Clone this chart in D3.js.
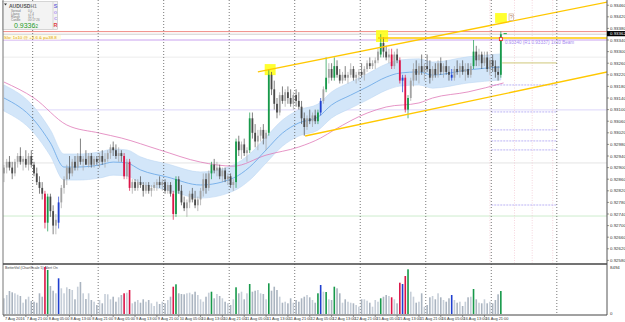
<!DOCTYPE html>
<html>
<head>
<meta charset="utf-8">
<script src="https://cdn.jsdelivr.net/npm/d3@7"></script>
<style>
  body { margin: 0; background: #fff; }
  svg { display: block; font-family: "Liberation Sans", Arial, sans-serif; }
</style>
</head>
<body>
<script>
// AUDUSD H1 bars: [open, high, low, close]
const candles = [
  [.9288,.9291,.9285,.9290],[.9290,.9293,.9288,.9292],[.9292,.9294,.9289,.9290],[.9290,.9292,.9286,.9288],
  [.9288,.9293,.9287,.9292],[.9292,.9295,.9290,.9294],[.9294,.9297,.9291,.9292],[.9292,.9294,.9289,.9293],
  [.9293,.9296,.9290,.9291],[.9291,.9295,.9289,.9294],[.9294,.9296,.9290,.9291],[.9291,.9292,.9287,.9288],
  [.9288,.9290,.9284,.9285],[.9285,.9287,.9281,.9283],[.9283,.9285,.9279,.9281],[.9281,.9282,.9269,.9271],
  [.9271,.9281,.9268,.9280],[.9280,.9281,.9273,.9275],[.9275,.9277,.9267,.9270],[.9270,.9274,.9267,.9272],
  [.9271,.9280,.9269,.9278],[.9278,.9284,.9276,.9283],[.9283,.9287,.9281,.9286],[.9286,.9291,.9284,.9290],
  [.9290,.9294,.9286,.9288],[.9288,.9293,.9287,.9292],[.9292,.9294,.9289,.9290],[.9290,.9295,.9289,.9294],
  [.9294,.9300,.9291,.9292],[.9292,.9294,.9289,.9293],[.9293,.9296,.9291,.9291],[.9291,.9295,.9290,.9294],
  [.9294,.9295,.9290,.9291],[.9291,.9294,.9290,.9293],[.9293,.9294,.9291,.9292],[.9292,.9295,.9290,.9294],
  [.9294,.9296,.9291,.9292],[.9292,.9295,.9290,.9293],[.9293,.9296,.9292,.9295],[.9295,.9298,.9293,.9297],
  [.9297,.9299,.9294,.9296],[.9296,.9298,.9293,.9294],[.9294,.9297,.9292,.9295],[.9295,.9296,.9292,.9294],
  [.9294,.9295,.9286,.9287],[.9287,.9293,.9286,.9292],[.9292,.9293,.9282,.9283],[.9283,.9286,.9281,.9285],
  [.9285,.9286,.9282,.9283],[.9283,.9286,.9282,.9285],[.9285,.9287,.9283,.9284],[.9284,.9285,.9280,.9282],
  [.9282,.9285,.9281,.9284],[.9284,.9285,.9281,.9282],[.9282,.9284,.9280,.9283],[.9283,.9285,.9282,.9284],
  [.9284,.9286,.9282,.9285],[.9285,.9287,.9283,.9284],[.9284,.9286,.9282,.9285],[.9285,.9286,.9281,.9282],
  [.9282,.9285,.9281,.9284],[.9284,.9285,.9280,.9281],[.9281,.9282,.9272,.9274],[.9274,.9287,.9273,.9286],
  [.9286,.9287,.9281,.9282],[.9282,.9284,.9277,.9278],[.9278,.9280,.9275,.9276],[.9276,.9279,.9273,.9278],
  [.9278,.9282,.9276,.9281],[.9281,.9283,.9278,.9279],[.9279,.9282,.9276,.9277],[.9277,.9280,.9275,.9279],
  [.9279,.9283,.9277,.9282],[.9282,.9288,.9280,.9286],[.9286,.9288,.9281,.9283],[.9283,.9289,.9282,.9288],
  [.9288,.9292,.9286,.9291],[.9291,.9293,.9288,.9289],[.9289,.9292,.9287,.9290],[.9290,.9291,.9286,.9287],
  [.9287,.9290,.9285,.9289],[.9289,.9290,.9285,.9286],[.9286,.9288,.9284,.9287],[.9287,.9288,.9283,.9284],
  [.9284,.9286,.9282,.9285],[.9285,.9300,.9283,.9299],[.9299,.9301,.9294,.9296],[.9296,.9299,.9293,.9298],
  [.9298,.9300,.9294,.9295],[.9295,.9297,.9292,.9296],[.9296,.9309,.9295,.9307],[.9307,.9309,.9300,.9302],
  [.9302,.9305,.9297,.9299],[.9299,.9303,.9296,.9301],[.9301,.9304,.9299,.9303],[.9303,.9305,.9298,.9300],
  [.9300,.9303,.9296,.9302],[.9302,.9324,.9301,.9322],[.9322,.9323,.9315,.9317],[.9317,.9320,.9310,.9312],
  [.9312,.9314,.9307,.9309],[.9309,.9316,.9308,.9315],[.9315,.9318,.9312,.9313],[.9313,.9317,.9311,.9316],
  [.9316,.9318,.9312,.9314],[.9314,.9317,.9311,.9312],[.9312,.9316,.9310,.9315],[.9315,.9317,.9311,.9313],
  [.9313,.9316,.9310,.9311],[.9311,.9313,.9305,.9307],[.9307,.9309,.9301,.9304],[.9304,.9308,.9303,.9307],
  [.9307,.9310,.9305,.9306],[.9306,.9309,.9304,.9308],[.9308,.9310,.9305,.9306],[.9306,.9310,.9305,.9309],
  [.9309,.9314,.9308,.9313],[.9313,.9318,.9312,.9317],[.9317,.9328,.9316,.9321],[.9321,.9326,.9319,.9324],
  [.9324,.9326,.9320,.9321],[.9321,.9328,.9320,.9325],[.9325,.9327,.9321,.9322],[.9322,.9324,.9319,.9320],
  [.9320,.9323,.9319,.9322],[.9322,.9325,.9320,.9321],[.9321,.9323,.9319,.9322],[.9322,.9326,.9321,.9324],
  [.9324,.9325,.9320,.9321],[.9321,.9323,.9319,.9322],[.9322,.9324,.9320,.9323],[.9323,.9326,.9321,.9322],
  [.9322,.9325,.9320,.9324],[.9324,.9327,.9323,.9326],[.9326,.9328,.9324,.9325],[.9325,.9327,.9324,.9326],
  [.9326,.9328,.9324,.9327],[.9327,.9331,.9326,.9330],[.9329,.9336,.9328,.9333],[.9333,.9335,.9328,.9330],
  [.9330,.9332,.9327,.9328],[.9328,.9331,.9326,.9329],[.9329,.9331,.9324,.9325],[.9325,.9330,.9324,.9329],
  [.9329,.9331,.9326,.9327],[.9327,.9328,.9319,.9320],[.9320,.9322,.9316,.9321],[.9321,.9322,.9309,.9310],
  [.9310,.9315,.9307,.9314],[.9314,.9321,.9313,.9320],[.9320,.9326,.9318,.9324],[.9324,.9327,.9320,.9322],
  [.9322,.9326,.9319,.9325],[.9325,.9329,.9322,.9323],[.9323,.9326,.9320,.9325],[.9325,.9329,.9323,.9324],
  [.9324,.9327,.9319,.9321],[.9321,.9325,.9320,.9324],[.9324,.9326,.9321,.9322],[.9322,.9327,.9321,.9326],
  [.9326,.9328,.9322,.9323],[.9323,.9326,.9321,.9325],[.9325,.9327,.9322,.9323],[.9323,.9325,.9320,.9322],
  [.9322,.9324,.9320,.9321],[.9321,.9325,.9320,.9324],[.9324,.9327,.9322,.9323],[.9323,.9326,.9321,.9325],
  [.9325,.9327,.9322,.9323],[.9323,.9326,.9320,.9324],[.9324,.9326,.9321,.9322],[.9322,.9326,.9321,.9325],
  [.9325,.9334,.9324,.9330],[.9330,.9332,.9325,.9327],[.9327,.9331,.9325,.9329],[.9329,.9330,.9324,.9326],
  [.9326,.9330,.9325,.9328],[.9328,.9330,.9323,.9324],[.9324,.9328,.9322,.9327],[.9327,.9329,.9323,.9325],
  [.9325,.9327,.9321,.9323],[.9323,.9325,.9320,.9322],[.9322,.9337,.9321,.9336]
];

// tick volume per bar
const volumes = [
  2837,3433,4156,3921,3740,3487,3253,2042,2656,3126,2349,2223,2042,3740,3126,8494,7951,5060,4210,3740,
  6451,4644,3740,4825,4518,4337,2656,4933,5782,3740,2710,3740,2530,2223,1626,2530,1933,3614,3560,2656,
  3126,2223,3018,3433,3740,3849,4337,1933,2223,2530,2042,2656,2223,2530,1933,1446,2223,1807,2223,1933,
  2530,3126,4933,5367,3740,3614,3560,3740,3849,3560,4030,3433,2656,2223,3126,3849,4030,2837,3614,3253,
  2837,2223,1933,1626,2656,4825,3740,4030,2656,3740,5421,4030,4210,4337,3740,3614,2656,5547,4210,4933,
  4337,3126,2042,2223,1933,2837,2042,2530,2223,2837,3126,3433,3018,2530,2042,3740,5240,4030,3975,2656,
  2530,4933,4644,3740,2042,2656,2223,2042,1933,1626,1320,2656,2656,2403,2042,1320,2530,2223,2837,3126,
  3433,3253,3018,2656,1933,5656,5421,6867,8077,4030,3126,2042,2223,3740,1320,1626,3018,3253,2656,3740,
  3018,2530,2223,2837,3433,2530,2042,2223,1446,2223,3018,3126,4518,2656,2042,1933,2656,1933,2223,1933,
  2530,3560,4156
];
const volRed   = [15, 44, 46, 62, 142, 145, 147];
const volGreen = [16, 63, 76, 85, 90, 97, 115, 118, 121, 138, 148, 172, 182];
const volBlue  = [20, 116, 146, 164];
const volMax = 8494;

const priceTicks = [0.93460,0.93420,0.93380,0.93340,0.93300,0.93260,0.93220,0.93180,0.93140,0.93100,0.93060,
  0.93020,0.92980,0.92940,0.92900,0.92860,0.92820,0.92780,0.92740,0.92700,0.92660,0.92620,0.92580];

const timeLabelIdx = [0,8,16,24,32,40,48,56,64,72,80,88,96,104,112,120,128,136,144,152,160,168,176];
const timeLabels = ["7 Aug 2016","7 Aug 21:00","8 Aug 05:00","8 Aug 13:00","8 Aug 21:00","9 Aug 05:00",
  "9 Aug 13:00","9 Aug 21:00","10 Aug 05:00","10 Aug 13:00","10 Aug 21:00","11 Aug 05:00","11 Aug 13:00",
  "11 Aug 21:00","12 Aug 05:00","12 Aug 13:00","12 Aug 21:00","15 Aug 05:00","15 Aug 13:00","15 Aug 21:00",
  "16 Aug 05:00","16 Aug 13:00","16 Aug 21:00"];
const daySeps = [10.5, 34.5, 58.5, 82.5, 106.5, 130.5, 154.5, 178.5, 202.5];

// moving average with envelope, and slow MA
const maIdx = [0,11,17,22,27,35,40,45,50,60,72,84,90,96,102,108,115,120,127,133,140,145,152,157,170,182];
const maMid = [0.93140,0.93064,0.92985,0.92902,0.92902,0.92909,0.92919,0.92916,0.92892,0.92867,0.92840,
  0.92864,0.92902,0.92961,0.93019,0.93054,0.93074,0.93116,0.93150,0.93178,0.93212,0.93226,0.93230,
  0.93219,0.93237,0.93247];
const bandHalf = 0.00045;
const slowIdx = [0,11,23,35,43,57,72,84,96,108,116,121,133,140,152,157,170,183];
const slowMa = [0.93195,0.93140,0.93047,0.93019,0.93002,0.92961,0.92919,0.92905,0.92943,0.92971,0.93002,
  0.93030,0.93088,0.93109,0.93123,0.93140,0.93161,0.93192];

// drawn objects
const upperTrend = [[93, 0.93230], [221, 0.93471]];
const lowerTrend = [[110.3, 0.93009], [221, 0.93230]];
const resistLine = [[137, 0.93347], [221, 0.93347]];
const markBoxes = [[95.5, 99.5, 0.93257, 0.93219], [136.3, 140.7, 0.93374, 0.93333], [179.9, 184.2, 0.93433, 0.93399]];
const askLevel = 0.93369, bidLevel = 0.93360, pivotLevel = 0.93340;
const softLevels = [0.93281, 0.93099, 0.92916, 0.92733];
const projLevels = [0.93185, 0.93092, 0.93030, 0.92992, 0.92961, 0.92771];
const projTarget = 0.93261;
const projSpan = [178.5, 202.5];
const projMarks = [178, 187, 193.5, 201];
const lastPrice = 0.93362;

const W = 625, H = 322;
const svg = d3.select("body").append("svg").attr("width", W).attr("height", H);

const x = d3.scaleLinear().domain([0, 221]).range([4, 607.3]);
const y = d3.scaleLinear().domain([0.92571, 0.93478]).range([263, 0]);
const yv = d3.scaleLinear().domain([0, volMax]).range([314, 267]);

svg.append("rect").attr("width", W).attr("height", H).attr("fill", "#fff");

svg.append("clipPath").attr("id", "main").append("rect")
  .attr("x", 3).attr("y", 0).attr("width", 604).attr("height", 263);
const g = svg.append("g").attr("clip-path", "url(#main)");

// soft horizontal levels
const softCol = ["#ececec", "#dcd6fa", "#e4e4e4", "#cdeccd"];
softLevels.forEach((p, k) => {
  g.append("line").attr("x1", 3).attr("x2", 607).attr("y1", y(p)).attr("y2", y(p))
    .attr("stroke", softCol[k]).attr("stroke-width", 1);
});

// envelope band
const band = d3.area().curve(d3.curveMonotoneX)
  .x((d, k) => x(maIdx[k]))
  .y0(d => y(d - bandHalf)).y1(d => y(d + bandHalf));
g.append("path").datum(maMid).attr("d", band).attr("fill", "#d3e6f9").attr("stroke", "#bfd9f3").attr("stroke-width", 0.6);

// day separators
daySeps.forEach(s => {
  svg.append("line").attr("x1", x(s)).attr("x2", x(s)).attr("y1", 0).attr("y2", 315)
    .attr("stroke", "#555").attr("stroke-width", 0.8).attr("stroke-dasharray", "1,2");
});

// projection area objects on the right
projMarks.forEach(s => {
  g.append("line").attr("x1", x(s)).attr("x2", x(s)).attr("y1", 0).attr("y2", 263)
    .attr("stroke", "#f2c4cf").attr("stroke-width", 0.7).attr("stroke-dasharray", "1,1.5");
});
projLevels.forEach(p => {
  g.append("line").attr("x1", x(projSpan[0])).attr("x2", x(projSpan[1])).attr("y1", y(p)).attr("y2", y(p))
    .attr("stroke", "#a9a0f2").attr("stroke-width", 0.8).attr("stroke-dasharray", "2,1");
});
g.append("line").attr("x1", x(projSpan[0] + 4)).attr("x2", x(projSpan[1])).attr("y1", y(projTarget)).attr("y2", y(projTarget))
  .attr("stroke", "#cfc77a").attr("stroke-width", 1);

// price lines
g.append("line").attr("x1", 3).attr("x2", 607).attr("y1", y(askLevel)).attr("y2", y(askLevel))
  .attr("stroke", "#f08a84").attr("stroke-width", 1);
g.append("line").attr("x1", 3).attr("x2", 607).attr("y1", y(bidLevel)).attr("y2", y(bidLevel))
  .attr("stroke", "#c4c4c4").attr("stroke-width", 0.8);
g.append("line").attr("x1", 3).attr("x2", 607).attr("y1", y(pivotLevel)).attr("y2", y(pivotLevel))
  .attr("stroke", "#c9a2ef").attr("stroke-width", 1);

// yellow marker boxes
markBoxes.forEach(b => {
  g.append("rect").attr("x", x(b[0])).attr("y", y(b[2])).attr("width", x(b[1]) - x(b[0])).attr("height", y(b[3]) - y(b[2]))
    .attr("fill", "#ffff1a").attr("opacity", 0.9);
});

// slow MA and envelope centre
const lineOf = idx => d3.line().curve(d3.curveMonotoneX).x((d, k) => x(idx[k])).y(d => y(d));
g.append("path").datum(slowMa).attr("d", lineOf(slowIdx)).attr("fill", "none").attr("stroke", "#e07ab8").attr("stroke-width", 0.8);
g.append("path").datum(maMid).attr("d", lineOf(maIdx)).attr("fill", "none").attr("stroke", "#64a4e6").attr("stroke-width", 0.8);

// candles
const special = {};
volRed.forEach(i => special[i] = "#dc1447");
volGreen.forEach(i => special[i] = "#17994a");
volBlue.forEach(i => special[i] = "#1f3fcf");
const candleCol = (d, i) => special[i] || (d[3] >= d[0] ? "#a3a3a3" : "#4a4a4a");

const cg = g.append("g");
cg.selectAll("line").data(candles).enter().append("line")
  .attr("x1", (d, i) => x(i)).attr("x2", (d, i) => x(i))
  .attr("y1", d => y(d[1])).attr("y2", d => y(d[2]))
  .attr("stroke", candleCol).attr("stroke-width", 0.7);
cg.selectAll("rect").data(candles).enter().append("rect")
  .attr("x", (d, i) => x(i) - 0.9).attr("width", 1.8)
  .attr("y", d => y(Math.max(d[0], d[3])))
  .attr("height", d => Math.max(0.8, Math.abs(y(d[0]) - y(d[3]))))
  .attr("fill", candleCol);

// trend lines
[upperTrend, lowerTrend, resistLine].forEach(t => {
  g.append("line").attr("x1", x(t[0][0])).attr("y1", y(t[0][1])).attr("x2", x(t[1][0])).attr("y2", y(t[1][1]))
    .attr("stroke", "#ffc800").attr("stroke-width", 1.3);
});

// small marks near the last bar
g.append("rect").attr("x", x(182) - 1.5).attr("y", y(0.93343) - 1.5).attr("width", 3).attr("height", 3)
  .attr("fill", "#fff").attr("stroke", "#e02020").attr("stroke-width", 0.8);
g.append("line").attr("x1", x(183)).attr("x2", x(184.2)).attr("y1", y(lastPrice)).attr("y2", y(lastPrice))
  .attr("stroke", "#19a83a").attr("stroke-width", 1);
g.append("rect").attr("x", x(185)).attr("y", y(0.93430)).attr("width", 4.5).attr("height", 6.5)
  .attr("fill", "#fff").attr("stroke", "#c8a080").attr("stroke-width", 0.6);
g.append("text").attr("x", x(185) + 2.25).attr("y", y(0.93430) + 5.3).attr("text-anchor", "middle")
  .attr("font-size", 5.5).attr("fill", "#b08060").text("?");
g.append("text").attr("x", x(183.5)).attr("y", y(pivotLevel) + 4.2).attr("font-size", 4.6).attr("fill", "#a88cf0")
  .text("0.93340 (R1 0.93337)  1x10 Beam");

// signal text
g.append("rect").attr("x", 3).attr("y", y(bidLevel) + 0.8).attr("width", 58).attr("height", 4.6).attr("fill", "#fffce6");
g.append("text").attr("x", 4).attr("y", y(bidLevel) + 4.8).attr("font-size", 4.4).attr("fill", "#e0a400")
  .text("Slo: 1x10 @ +3.6 & p=38.8");

// info panel
const info = svg.append("g");
info.append("rect").attr("x", 2.5).attr("y", 1.5).attr("width", 55).attr("height", 28)
  .attr("fill", "#f3f3f3").attr("stroke", "#bdbdbd").attr("stroke-width", 0.6);
info.append("line").attr("x1", 53).attr("x2", 53).attr("y1", 2).attr("y2", 29).attr("stroke", "#c8c8c8").attr("stroke-width", 0.6);
info.append("path").attr("d", "M4,3.5 L7,3.5 L5.5,5.5 Z").attr("fill", "#333");
info.append("text").attr("x", 9).attr("y", 7.6).attr("font-size", 5).attr("font-weight", "bold").attr("fill", "#555").text("AUDUSD");
info.append("text").attr("x", 30.5).attr("y", 7.6).attr("font-size", 5).attr("font-weight", "bold").attr("fill", "#8a8a8a").text("H1");
[["Spread", "0.0"], ["Lgang", "+7.4"], ["Range", "32.1"], ["Candle", "00:17:26"]].forEach((r, k) => {
  info.append("text").attr("x", 11).attr("y", 11.5 + k * 3.2).attr("font-size", 3).attr("fill", "#777").text(r[0]);
  info.append("text").attr("x", 28).attr("y", 11.5 + k * 3.2).attr("font-size", 3).attr("fill", "#777").text(r[1]);
});
info.append("text").attr("x", 14).attr("y", 28).attr("font-size", 7).attr("fill", "#1c9a28").text(lastPrice.toFixed(4));
info.append("text").attr("x", 35.5).attr("y", 28).attr("font-size", 4.5).attr("fill", "#1c9a28").text("2");
[["S", "#6a6ad8", 7.5], ["o", "#b49cf0", 13.5], ["c", "#b49cf0", 20], ["R", "#e04040", 27]].forEach(r => {
  info.append("text").attr("x", 55.5).attr("y", r[2]).attr("font-size", 5.5).attr("font-weight", "bold")
    .attr("text-anchor", "middle").attr("fill", r[1]).text(r[0]);
});

// volume pane
svg.append("text").attr("x", 5).attr("y", 268.6).attr("font-size", 3.6).attr("fill", "#444")
  .text("BetterVol   (ChartScale 5)      Alert On");
const volCol = i => special[i] || (candles[i][3] >= candles[i][0] ? "#c6ced8" : "#aab4c0");
svg.append("g").selectAll("rect").data(volumes).enter().append("rect")
  .attr("x", (d, i) => x(i) - 0.8).attr("width", 1.6)
  .attr("y", d => yv(d)).attr("height", d => yv(0) - yv(d))
  .attr("fill", (d, i) => volCol(i));

// frames
svg.append("line").attr("x1", 3).attr("x2", 3).attr("y1", 0).attr("y2", 315).attr("stroke", "#777").attr("stroke-width", 1);
svg.append("line").attr("x1", 607).attr("x2", 607).attr("y1", 0).attr("y2", 315).attr("stroke", "#555").attr("stroke-width", 1);
svg.append("line").attr("x1", 3).attr("x2", 607).attr("y1", 264).attr("y2", 264).attr("stroke", "#444").attr("stroke-width", 1.5);
svg.append("line").attr("x1", 3).attr("x2", 607).attr("y1", 315).attr("y2", 315).attr("stroke", "#444").attr("stroke-width", 1);

// price axis
const ax = svg.append("g");
priceTicks.forEach(p => {
  ax.append("line").attr("x1", 607).attr("x2", 609).attr("y1", y(p)).attr("y2", y(p)).attr("stroke", "#555").attr("stroke-width", 0.6);
  ax.append("text").attr("x", 610).attr("y", y(p) + 1.6).attr("font-size", 4.4).attr("fill", "#333").text(p.toFixed(5));
});
ax.append("rect").attr("x", 607).attr("y", y(lastPrice) - 2.6).attr("width", 18).attr("height", 5.2).attr("fill", "#000");
ax.append("text").attr("x", 610).attr("y", y(lastPrice) + 1.6).attr("font-size", 4.4).attr("fill", "#fff").text(lastPrice.toFixed(5));
ax.append("text").attr("x", 610).attr("y", yv(volMax) + 1.5).attr("font-size", 4.4).attr("fill", "#333").text(volMax);
ax.append("text").attr("x", 610).attr("y", yv(0) + 0.5).attr("font-size", 4.4).attr("fill", "#333").text("0");

// time axis
timeLabelIdx.forEach((i, k) => {
  svg.append("line").attr("x1", x(i)).attr("x2", x(i)).attr("y1", 315).attr("y2", 317).attr("stroke", "#555").attr("stroke-width", 0.6);
  svg.append("text").attr("x", x(i) + 1).attr("y", 319.8).attr("font-size", 3.9).attr("fill", "#333").text(timeLabels[k]);
});
</script>
</body>
</html>
